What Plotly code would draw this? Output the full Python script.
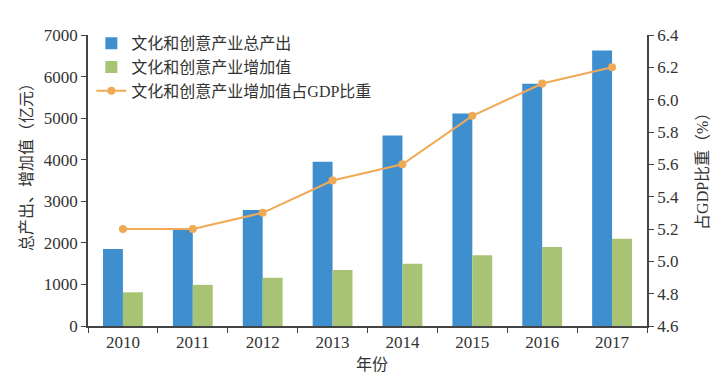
import plotly.graph_objects as go

years = ["2010", "2011", "2012", "2013", "2014", "2015", "2016", "2017"]
total_output = [1850, 2310, 2790, 3950, 4580, 5110, 5830, 6630]
value_added = [810, 990, 1160, 1350, 1500, 1700, 1900, 2100]
gdp_share = [5.2, 5.2, 5.3, 5.5, 5.6, 5.9, 6.1, 6.2]

x_title = "年份"
y_title = "总产出、增加值（亿元）"
y2_title = "占GDP比重（%）"

FONT = "Liberation Serif, Noto Sans CJK SC, serif"
TXT = "#333333"
AX = "#444444"

fig = go.Figure()
fig.add_trace(go.Bar(x=years, y=total_output, name="文化和创意产业总产出",
                     marker=dict(color="#3F8FCF", line=dict(width=0))))
fig.add_trace(go.Bar(x=years, y=value_added, name="文化和创意产业增加值",
                     marker=dict(color="#A8C373", line=dict(width=0))))
fig.add_trace(go.Scatter(x=years, y=gdp_share, name="文化和创意产业增加值占GDP比重",
                         yaxis="y2", mode="lines+markers",
                         line=dict(color="#F0AA55", width=2),
                         marker=dict(color="#F0AA55", size=8)))

fig.update_layout(
    width=719, height=384,
    margin=dict(l=80, r=80, t=27, b=66, autoexpand=False),
    paper_bgcolor="white", plot_bgcolor="white",
    font=dict(family=FONT, size=16, color=TXT),
    barmode="group", bargap=0.43, bargroupgap=0,
    showlegend=True,
    legend=dict(x=0.006, y=1.03, xanchor="left", yanchor="top",
                bgcolor="rgba(0,0,0,0)", font=dict(size=16, color=TXT),
                tracegroupgap=0, itemwidth=30),
    xaxis=dict(type="category", showline=True, linecolor=AX, linewidth=1.5,
               ticks="outside", tickson="boundaries", ticklen=5, tickcolor=AX,
               showgrid=False, tickfont=dict(size=17), automargin=False),
    yaxis=dict(range=[0, 7000], dtick=1000, showline=True, linecolor=AX, linewidth=1.5,
               ticks="outside", ticklen=5, tickcolor=AX, showgrid=False, zeroline=False,
               tickfont=dict(size=17), automargin=False),
    yaxis2=dict(range=[4.6, 6.4], dtick=0.2, tickformat=".1f", overlaying="y", side="right",
                showline=True, linecolor=AX, linewidth=1.5, ticks="outside", ticklen=5,
                tickcolor=AX, showgrid=False, zeroline=False, tickfont=dict(size=17),
                automargin=False),
    annotations=[
        dict(text=y_title, xref="paper", yref="paper", x=-0.111, y=0.56,
             textangle=-90, showarrow=False, font=dict(size=16, color=TXT),
             xanchor="center", yanchor="middle"),
        dict(text=y2_title, xref="paper", yref="paper", x=1.098, y=0.546,
             textangle=-90, showarrow=False, font=dict(size=16, color=TXT),
             xanchor="center", yanchor="middle"),
        dict(text=x_title, xref="paper", yref="paper", x=0.508, y=-0.134,
             showarrow=False, font=dict(size=16, color=TXT),
             xanchor="center", yanchor="middle"),
    ],
)

fig.write_html("out.html")
